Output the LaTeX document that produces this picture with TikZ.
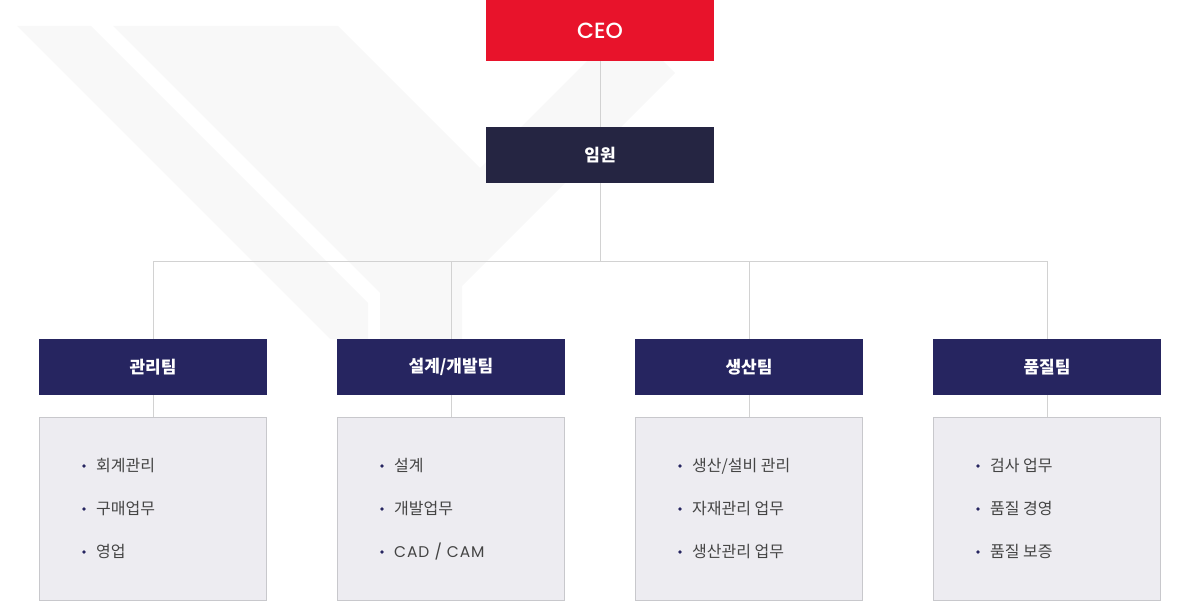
\documentclass[tikz,border=0pt]{standalone}
\usepackage{fontspec}
\setmainfont{Noto Sans CJK KR}
\newfontfamily\latinfont{Poppins}[BoldFont={Poppins Medium}]
\definecolor{ceored}{HTML}{E8132B}
\definecolor{execnavy}{HTML}{252542}
\definecolor{teamnavy}{HTML}{262560}
\definecolor{detailfill}{HTML}{EDECF1}
\definecolor{detailline}{HTML}{C8C8CC}
\definecolor{connline}{HTML}{D2D2D2}
\definecolor{bgshape}{HTML}{F8F8F8}
\definecolor{itemtext}{HTML}{444444}
\tikzset{
  topbox/.style={minimum width=228pt, minimum height=56pt, inner sep=0pt, text=white, font=\fontsize{17}{20}\selectfont\bfseries},
  ceobox/.style={topbox, fill=ceored, minimum height=61pt, font=\latinfont\bfseries\fontsize{22}{24}\selectfont},
  execbox/.style={topbox, fill=execnavy},
  teambox/.style={topbox, fill=teamnavy},
  detailbox/.style={draw=detailline, line width=1pt, fill=detailfill, minimum width=227pt, minimum height=183pt, inner sep=0pt},
  conn/.style={draw=connline, line width=1pt},
  itemlabel/.style={anchor=base west, inner sep=0pt, text=itemtext, font=\fontsize{16}{18}\selectfont},
  bulletdot/.style={fill=teamnavy}
}
\begin{document}
\begin{tikzpicture}[x=1pt,y=-1pt]
\useasboundingbox (0,0) rectangle (1200,602);
% background shapes
\fill[bgshape] (17,26) -- (91,26) -- (368,303) -- (368,339) -- (330,339) -- cycle;
\fill[bgshape] (113,26) -- (338,26) -- (480,168) -- (625,23) -- (675,73) -- (462,286) -- (462,339) -- (380,339) -- (380,293) -- cycle;
% nodes
\node[ceobox] (ceo) at (600,30.5) {CEO};
\node[execbox] (exec) at (600,155) {임원};
\coordinate (hub) at (600,261);
\foreach \n/\x/\t in {t1/153/{관리팀}, t2/451/{설계/개발팀}, t3/749/{생산팀}, t4/1047/{품질팀}}{
  \node[teambox] (\n) at (\x,367) {\t};
}
\foreach \n/\x in {d1/153, d2/451, d3/749, d4/1047}{
  \node[detailbox] (\n) at (\x,509) {};
}
% connectors
\draw[conn] (ceo.south) -- (exec.north);
\draw[conn] (exec.south) -- (hub);
\draw[conn] (t1.north) |- (hub);
\draw[conn] (t2.north) |- (hub);
\draw[conn] (t3.north) |- (hub);
\draw[conn] (t4.north) |- (hub);
\draw[conn] (t1.south) -- (d1.north);
\draw[conn] (t2.south) -- (d2.north);
\draw[conn] (t3.south) -- (d3.north);
\draw[conn] (t4.south) -- (d4.north);
% items
\foreach \x in {0,298,596,894}{
  \foreach \y in {466,509,552}{
    \fill[bulletdot] (84+\x,\y) circle (1.8pt);
  }
}
\node[itemlabel] (i11) at (96,471.5) {회계관리};
\node[itemlabel] (i12) at (96,514.5) {구매업무};
\node[itemlabel] (i13) at (96,557.5) {영업};
\node[itemlabel] (i21) at (394,471.5) {설계};
\node[itemlabel] (i22) at (394,514.5) {개발업무};
\node[itemlabel, font=\latinfont\addfontfeatures{LetterSpace=6}\fontsize{15.5}{18}\selectfont] (i23) at (394,557.5) {CAD / CAM};
\node[itemlabel] (i31) at (692,471.5) {생산/설비 관리};
\node[itemlabel] (i32) at (692,514.5) {자재관리 업무};
\node[itemlabel] (i33) at (692,557.5) {생산관리 업무};
\node[itemlabel] (i41) at (990,471.5) {검사 업무};
\node[itemlabel] (i42) at (990,514.5) {품질 경영};
\node[itemlabel] (i43) at (990,557.5) {품질 보증};
\end{tikzpicture}
\end{document}
